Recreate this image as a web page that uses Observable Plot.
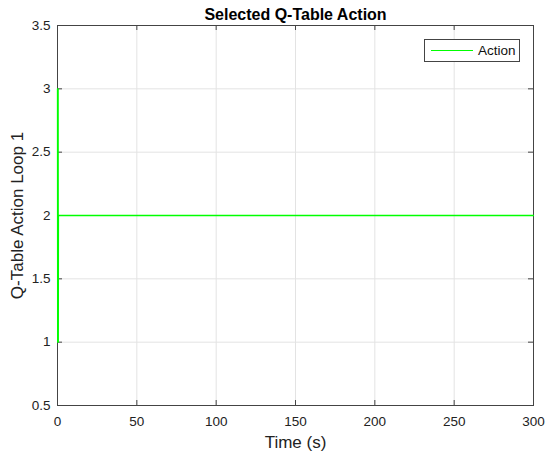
<!DOCTYPE html>
<html>
<head>
<meta charset="utf-8">
<script src="https://cdn.jsdelivr.net/npm/d3@7"></script>
<script src="https://cdn.jsdelivr.net/npm/@observablehq/plot@0.6"></script>
<style>
  html, body { margin: 0; padding: 0; background: #fff; }
  #wrap { position: relative; width: 550px; height: 457px; font-family: "Liberation Sans", Arial, sans-serif; }
  #legend { position: absolute; left: 424px; top: 39px; width: 96px; height: 23px; border: 1px solid #444; background: #fff; box-sizing: border-box; }
  #legend .sw { position: absolute; left: 6px; top: 10px; width: 42px; height: 0; border-top: 1px solid #00ff00; }
  #legend .lb { position: absolute; left: 53px; top: 3px; font-size: 13.5px; color: #111; }
</style>
</head>
<body>
<div id="wrap"></div>
<script>
const title = "Selected Q-Table Action";
const xLabel = "Time (s)";
const yLabel = "Q-Table Action Loop 1";
const seriesName = "Action";
const time   = [0, 0.1, 0.2, 0.3, 0.4, 0.5, 0.6, 300];
const action = [3, 1, 3, 2.5, 3, 1, 2, 2];
const xTicks = [0, 50, 100, 150, 200, 250, 300];
const yTicks = [0.5, 1, 1.5, 2, 2.5, 3, 3.5];
const xDomain = [0, 300];
const yDomain = [0.5, 3.5];

const data = time.map((t, i) => ({t, a: action[i]}));
const axisColor = "#444";
const W = 550, H = 457, mL = 57, mR = 17, mT = 25, mB = 52;
const innerW = W - mL - mR, innerH = H - mT - mB, tick = 5;

const chart = Plot.plot({
  width: W,
  height: H,
  marginLeft: mL,
  marginRight: mR,
  marginTop: mT,
  marginBottom: mB,
  style: {fontFamily: "Liberation Sans, Arial, sans-serif", fontSize: "13.5px", color: "#222", background: "#fff"},
  x: {domain: xDomain, label: null},
  y: {domain: yDomain, label: null},
  marks: [
    Plot.gridX(xTicks, {stroke: "#e3e3e3", strokeOpacity: 1}),
    Plot.gridY(yTicks, {stroke: "#e3e3e3", strokeOpacity: 1}),
    Plot.tickX(xTicks, {x: d => d, stroke: axisColor, insetTop: innerH - tick}),
    Plot.tickX(xTicks, {x: d => d, stroke: axisColor, insetBottom: innerH - tick}),
    Plot.tickY(yTicks, {y: d => d, stroke: axisColor, insetRight: innerW - tick}),
    Plot.tickY(yTicks, {y: d => d, stroke: axisColor, insetLeft: innerW - tick}),
    Plot.frame({stroke: axisColor}),
    Plot.line(data, {x: "t", y: "a", stroke: "#00ff00", strokeWidth: 1.3, strokeOpacity: 1}),
    Plot.axisX(xTicks, {anchor: "bottom", tickSize: 0, tickPadding: 11, fill: "#222", fontSize: 13.5}),
    Plot.axisY(yTicks, {anchor: "left", tickSize: 0, tickPadding: 7, fill: "#222", fontSize: 13.5, tickFormat: d => String(d)}),
    Plot.text([title], {frameAnchor: "top", lineAnchor: "middle", dy: -11, fontWeight: "bold", fontSize: 16, fill: "#000"}),
    Plot.text([xLabel], {frameAnchor: "bottom", lineAnchor: "middle", dy: 37, fontSize: 17, fill: "#222"}),
    Plot.text([yLabel], {frameAnchor: "left", textAnchor: "middle", lineAnchor: "middle", dx: -40, rotate: -90, fontSize: 17, fill: "#222"})
  ]
});

const wrap = document.getElementById("wrap");
wrap.appendChild(chart);
const lg = document.createElement("div");
lg.id = "legend";
lg.innerHTML = `<div class="sw"></div><div class="lb">${seriesName}</div>`;
wrap.appendChild(lg);
</script>
</body>
</html>
